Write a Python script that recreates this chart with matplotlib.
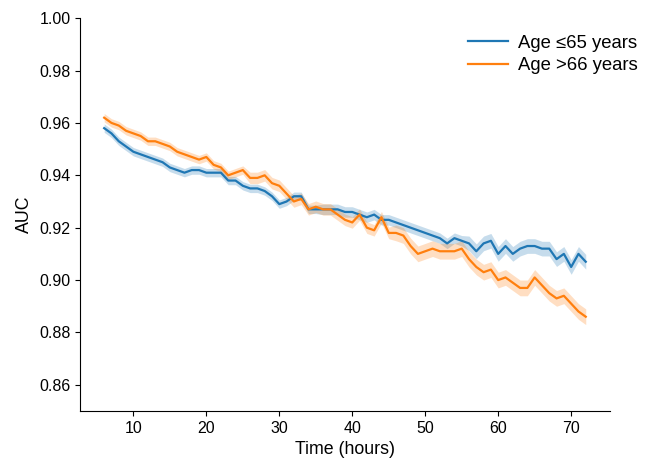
import matplotlib
matplotlib.use("Agg")
import matplotlib.pyplot as plt
import numpy as np

plt.rcParams['font.family'] = ['Liberation Sans', 'DejaVu Sans']

hours = list(range(6, 73))

auc_young = [0.958, 0.956, 0.953, 0.951, 0.949, 0.948, 0.947, 0.946, 0.945, 0.943,
             0.942, 0.941, 0.942, 0.942, 0.941, 0.941, 0.941, 0.938, 0.938, 0.936,
             0.935, 0.935, 0.934, 0.932, 0.929, 0.930, 0.932, 0.932, 0.927, 0.927,
             0.927, 0.927, 0.927, 0.926, 0.926, 0.925, 0.924, 0.925, 0.923, 0.923,
             0.922, 0.921, 0.920, 0.919, 0.918, 0.917, 0.916, 0.914, 0.916, 0.915,
             0.914, 0.911, 0.914, 0.915, 0.910, 0.913, 0.910, 0.912, 0.913, 0.913,
             0.912, 0.912, 0.908, 0.910, 0.905, 0.910, 0.907]

auc_old = [0.962, 0.960, 0.959, 0.957, 0.956, 0.955, 0.953, 0.953, 0.952, 0.951,
           0.949, 0.948, 0.947, 0.946, 0.947, 0.944, 0.943, 0.940, 0.941, 0.942,
           0.939, 0.939, 0.940, 0.937, 0.936, 0.933, 0.930, 0.931, 0.927, 0.928,
           0.927, 0.927, 0.925, 0.923, 0.922, 0.925, 0.920, 0.919, 0.924, 0.918,
           0.918, 0.917, 0.913, 0.910, 0.911, 0.912, 0.911, 0.911, 0.911, 0.912,
           0.908, 0.905, 0.903, 0.904, 0.900, 0.901, 0.899, 0.897, 0.897, 0.901,
           0.898, 0.895, 0.893, 0.894, 0.891, 0.888, 0.886]

# half-width of the shaded band, per hour
ci_young = [0.0016] * 30 + [0.002] * 20 + [0.0028] * 17
ci_old = [0.0016] * 20 + [0.0022] * 20 + [0.003] * 27

labels = ['Age \u226465 years', 'Age >66 years']
colors = ['#1f77b4', '#ff7f0e']

fig = plt.figure(figsize=(6.46, 4.66), dpi=100)
ax = fig.add_axes([0.124, 0.118, 0.82, 0.843])

for y, ci, lab, c in zip([auc_young, auc_old], [ci_young, ci_old], labels, colors):
    y = np.array(y)
    ci = np.array(ci)
    ax.fill_between(hours, y - ci, y + ci, color=c, alpha=0.25, linewidth=0)
    ax.plot(hours, y, color=c, linewidth=1.6, label=lab)

ax.set_ylim(0.85, 1.00)
ax.set_yticks([0.86, 0.88, 0.90, 0.92, 0.94, 0.96, 0.98, 1.00])
ax.set_xticks([10, 20, 30, 40, 50, 60, 70])
ax.tick_params(labelsize=11.5)
ax.set_xlabel('Time (hours)', fontsize=12.8)
ax.set_ylabel('AUC', fontsize=12.8)

ax.spines['top'].set_visible(False)
ax.spines['right'].set_visible(False)

ax.legend(loc='upper right', bbox_to_anchor=(1.085, 1.0), frameon=False,
          fontsize=13.3, handlelength=2.2, handletextpad=0.55, labelspacing=0.3)

plt.savefig('out.png', dpi=100)
